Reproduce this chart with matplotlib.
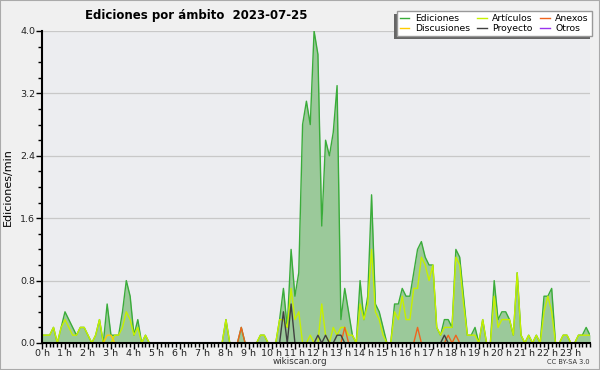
import matplotlib
matplotlib.use("Agg")
import matplotlib.pyplot as plt
from matplotlib.patches import Rectangle
from matplotlib.transforms import ScaledTranslation
import numpy as np

# 10-minute bins, edits per minute
ediciones = [
    0.1, 0.1, 0.1, 0.2, 0.0, 0.2, 0.4, 0.3, 0.2, 0.1, 0.2, 0.2,
    0.1, 0.0, 0.1, 0.3, 0.0, 0.5, 0.1, 0.1, 0.1, 0.4, 0.8, 0.6,
    0.1, 0.3, 0.0, 0.1, 0.0, 0.0, 0.0, 0.0, 0.0, 0.0, 0.0, 0.0,
    0.0, 0.0, 0.0, 0.0, 0.0, 0.0, 0.0, 0.0, 0.0, 0.0, 0.0, 0.0,
    0.3, 0.0, 0.0, 0.0, 0.2, 0.0, 0.0, 0.0, 0.0, 0.1, 0.1, 0.0,
    0.0, 0.0, 0.3, 0.7, 0.2, 1.2, 0.6, 0.9, 2.8, 3.1, 2.8, 4.0,
    3.7, 1.5, 2.6, 2.4, 2.7, 3.3, 0.3, 0.7, 0.4, 0.1, 0.0, 0.8,
    0.3, 0.6, 1.9, 0.5, 0.4, 0.2, 0.0, 0.0, 0.5, 0.5, 0.7, 0.6,
    0.6, 0.9, 1.2, 1.3, 1.1, 1.0, 1.0, 0.2, 0.1, 0.3, 0.3, 0.2,
    1.2, 1.1, 0.6, 0.1, 0.1, 0.2, 0.0, 0.3, 0.0, 0.0, 0.8, 0.3,
    0.4, 0.4, 0.3, 0.1, 0.9, 0.1, 0.0, 0.1, 0.0, 0.1, 0.0, 0.6,
    0.6, 0.7, 0.0, 0.0, 0.1, 0.1, 0.0, 0.0, 0.1, 0.1, 0.2, 0.1,
]
articulos = [
    0.1, 0.1, 0.1, 0.2, 0.0, 0.2, 0.3, 0.2, 0.1, 0.1, 0.2, 0.2,
    0.1, 0.0, 0.1, 0.3, 0.0, 0.0, 0.0, 0.1, 0.1, 0.2, 0.4, 0.3,
    0.1, 0.2, 0.0, 0.1, 0.0, 0.0, 0.0, 0.0, 0.0, 0.0, 0.0, 0.0,
    0.0, 0.0, 0.0, 0.0, 0.0, 0.0, 0.0, 0.0, 0.0, 0.0, 0.0, 0.0,
    0.3, 0.0, 0.0, 0.0, 0.0, 0.0, 0.0, 0.0, 0.0, 0.1, 0.1, 0.0,
    0.0, 0.0, 0.3, 0.3, 0.2, 0.7, 0.3, 0.4, 0.0, 0.0, 0.1, 0.0,
    0.0, 0.5, 0.1, 0.0, 0.2, 0.1, 0.2, 0.2, 0.1, 0.1, 0.0, 0.5,
    0.3, 0.5, 1.2, 0.4, 0.3, 0.1, 0.0, 0.0, 0.4, 0.3, 0.6, 0.3,
    0.3, 0.7, 0.7, 1.1, 1.0, 0.8, 1.0, 0.2, 0.1, 0.2, 0.2, 0.2,
    1.1, 1.0, 0.5, 0.1, 0.1, 0.1, 0.0, 0.3, 0.0, 0.0, 0.6, 0.2,
    0.3, 0.3, 0.3, 0.1, 0.9, 0.1, 0.0, 0.1, 0.0, 0.1, 0.0, 0.4,
    0.6, 0.4, 0.0, 0.0, 0.1, 0.1, 0.0, 0.0, 0.1, 0.1, 0.1, 0.1,
]
# sparse series: {bin: value}
anexos_pts = {52: 0.2, 79: 0.2, 98: 0.2, 106: 0.1, 108: 0.1}
discusiones_pts = {17: 0.1, 18: 0.1}
proyecto_pts = {63: 0.4, 65: 0.5, 72: 0.1, 74: 0.1, 77: 0.1, 78: 0.1, 105: 0.1}
otros_pts = {}

hour_labels = [f"{h} h" for h in range(24)]

n = len(ediciones)
bins = np.arange(n)

def dense(pts):
    v = np.zeros(n)
    for k, val in pts.items():
        v[k] = val
    return v

anexos = dense(anexos_pts)
discusiones = dense(discusiones_pts)
proyecto = dense(proyecto_pts)
otros = dense(otros_pts)

c_ed = "#3aac3a"
c_fill = "#9bc99a"
c_art = "#c6f000"
c_anx = "#f0641e"
c_dis = "#ffcc00"
c_pro = "#404040"
c_otr = "#9933ee"

fig = plt.figure(figsize=(6, 3.7), dpi=100, facecolor="#f0f0f0")
ax = fig.add_axes([42 / 600, 27 / 370, 548 / 600, 312 / 370])
ax.set_facecolor("#ecedf0")

ax.fill_between(bins, 0, ediciones, color=c_fill, lw=0, zorder=1)
ax.plot(bins, ediciones, color=c_ed, lw=1.0, zorder=2, label="Ediciones")
ax.plot(bins, articulos, color=c_art, lw=1.0, zorder=3, label="Artículos")
ax.plot(bins, anexos, color=c_anx, lw=1.0, zorder=4, label="Anexos")
ax.plot(bins, discusiones, color=c_dis, lw=1.0, zorder=4, label="Discusiones")
ax.plot(bins, proyecto, color=c_pro, lw=1.0, zorder=4, label="Proyecto")
ax.plot(bins, otros, color=c_otr, lw=1.0, zorder=4, label="Otros")

ax.set_xlim(0, n - 1)
ax.set_ylim(0, 4.0)

ax.set_yticks(np.arange(0, 4.01, 0.8))
ax.set_yticklabels([f"{v:.1f}" for v in np.arange(0, 4.01, 0.8)])
ax.set_yticks(np.arange(0, 4.01, 0.2), minor=True)
ax.yaxis.grid(True, color="#c8c8c8", lw=0.9)
ax.set_axisbelow(True)

ax.set_xticks(np.arange(0, n, 6))
ax.set_xticklabels(hour_labels)
ax.set_xticks(bins, minor=True)
off = ScaledTranslation(2 / 100, 0, fig.dpi_scale_trans)
for lab in ax.get_xticklabels():
    lab.set_transform(lab.get_transform() + off)

ax.tick_params(axis="both", which="major", length=4, width=1, labelsize=6.8,
               color="black", labelcolor="#222222", pad=1)
ax.tick_params(axis="x", which="major", pad=0)
ax.tick_params(axis="both", which="minor", length=3, width=1, color="black")
ax.tick_params(axis="x", which="both", direction="out")

for s in ["top", "right"]:
    ax.spines[s].set_visible(False)
for s in ["left", "bottom"]:
    ax.spines[s].set_linewidth(1.5)
    ax.spines[s].set_zorder(10)

ax.set_ylabel("Ediciones/min", fontsize=8, labelpad=5)

handles, labels = ax.get_legend_handles_labels()
order = [0, 3, 1, 4, 2, 5]
leg = fig.legend([handles[i] for i in order], [labels[i] for i in order],
                 ncol=3, loc="upper right", bbox_to_anchor=(592 / 600, 1 - 11 / 370),
                 fontsize=6.7, frameon=True, fancybox=False, edgecolor="#999999",
                 facecolor="white", framealpha=1, handlelength=1.0, handletextpad=0.6,
                 columnspacing=0.8, labelspacing=0.1, borderpad=0.35, borderaxespad=0)
for h in leg.get_lines():
    h.set_linewidth(1.0)

fig.text(85 / 600, 1 - 16 / 370, "Ediciones por ámbito  2023-07-25", fontsize=8.5,
         weight="bold", ha="left", va="center")
fig.text(300 / 600, 1 - 362 / 370, "wikiscan.org", fontsize=6.3, ha="center", va="center", color="#333333")
fig.text(590 / 600, 1 - 362 / 370, "CC BY-SA 3.0", fontsize=4.8, ha="right", va="center", color="#333333")

# outer border
fig.patches.append(Rectangle((0, 0), 1, 1, transform=fig.transFigure, fill=False,
                             edgecolor="#aaaaaa", lw=1.5))

# legend shadow on the left/bottom
fig.canvas.draw()
bb = leg.get_window_extent().transformed(fig.transFigure.inverted())
dx, dy = 2.5 / 600, 2.5 / 370
fig.patches.append(Rectangle((bb.x0 - dx, bb.y0 - dy), bb.width, bb.height,
                             transform=fig.transFigure, facecolor="#666666",
                             edgecolor="none", zorder=0))
leg.set_zorder(5)

fig.savefig("out.png", dpi=100, facecolor=fig.get_facecolor())
